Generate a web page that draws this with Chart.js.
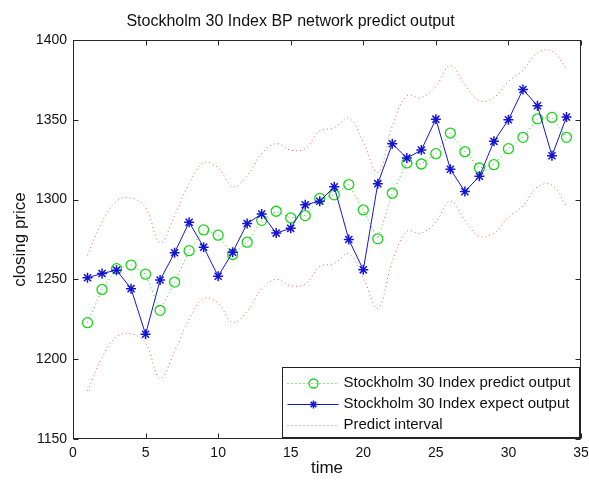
<!DOCTYPE html>
<html>
<head>
<meta charset="utf-8">
<script src="https://cdn.jsdelivr.net/npm/chart.js@4.4.1/dist/chart.umd.min.js"></script>
<style>
  html, body { margin: 0; padding: 0; background: #fff; }
  #wrap { width: 589px; height: 481px; }
</style>
</head>
<body>
<div id="wrap"><canvas id="c" width="589" height="481"></canvas></div>
<script>
// Trading days 1..34
const timeSteps = [1, 2, 3, 4, 5, 6, 7, 8, 9, 10, 11, 12, 13, 14, 15, 16, 17,
                   18, 19, 20, 21, 22, 23, 24, 25, 26, 27, 28, 29, 30, 31, 32, 33, 34];

// BP network output for the Stockholm 30 index
const predictOutput = [1222.9, 1243.7, 1256.7, 1259.0, 1253.3, 1230.6, 1248.3, 1268.0, 1281.0, 1277.7,
                       1265.6, 1273.3, 1287.0, 1292.7, 1288.5, 1290.0, 1300.8, 1303.0, 1309.4, 1293.5,
                       1275.4, 1304.0, 1323.0, 1322.3, 1328.8, 1341.7, 1330.0, 1319.8, 1321.9, 1331.9,
                       1339.0, 1350.6, 1351.5, 1339.0];

// Actual closing prices
const expectOutput = [1251.0, 1253.7, 1255.8, 1244.2, 1215.6, 1249.6, 1266.7, 1285.8, 1270.2, 1252.0,
                      1267.0, 1285.0, 1291.0, 1279.0, 1282.0, 1296.7, 1299.0, 1308.0, 1275.0, 1256.0,
                      1310.0, 1335.0, 1326.0, 1331.0, 1350.4, 1319.0, 1305.0, 1314.6, 1336.5, 1350.0,
                      1369.0, 1358.8, 1327.5, 1351.7];

// Prediction interval bounds
const intervalUpper = [1265, 1286, 1299, 1301, 1295, 1273, 1290, 1310, 1323, 1320,
                       1308, 1315, 1329, 1335, 1331, 1332, 1343, 1345, 1351, 1336,
                       1317, 1346, 1365, 1364, 1371, 1384, 1372, 1362, 1364, 1374,
                       1381, 1392, 1393, 1382];
const intervalLower = [1180, 1201, 1214, 1216, 1210, 1188, 1205, 1225, 1238, 1235,
                       1223, 1230, 1244, 1250, 1246, 1247, 1258, 1260, 1266, 1251,
                       1232, 1261, 1280, 1279, 1286, 1299, 1287, 1277, 1279, 1289,
                       1296, 1308, 1309, 1296];

const seriesNames = ['Stockholm 30 Index predict output',
                     'Stockholm 30 Index expect output',
                     'Predict interval'];

const FONT = '"Liberation Sans", Arial, Helvetica, sans-serif';
const TEXT = '#111';
const GREEN = '#19d319';
const BLUE = '#1414d2';
const RED = 'rgba(225,30,30,0.7)';

const pts = vals => vals.map((v, i) => ({ x: timeSteps[i], y: v }));

function drawMarker(ctx, style, cx, cy, r, color) {
  ctx.save();
  ctx.strokeStyle = color;
  ctx.setLineDash([]);
  if (style === 'circle') {
    ctx.lineWidth = 1.3;
    ctx.beginPath();
    ctx.arc(cx, cy, r, 0, Math.PI * 2);
    ctx.stroke();
  } else if (style === 'star') {
    ctx.lineWidth = 1.5;
    ctx.beginPath();
    const d = r * Math.SQRT1_2;
    ctx.moveTo(cx - r, cy); ctx.lineTo(cx + r, cy);
    ctx.moveTo(cx, cy - r); ctx.lineTo(cx, cy + r);
    ctx.moveTo(cx - d, cy - d); ctx.lineTo(cx + d, cy + d);
    ctx.moveTo(cx - d, cy + d); ctx.lineTo(cx + d, cy - d);
    ctx.stroke();
  }
  ctx.restore();
}

// Axes box with inward tick marks, plus the legend box in the lower right corner
const boxAndLegend = {
  id: 'boxAndLegend',
  afterDatasetsDraw(chart) {
    const { ctx, chartArea: a, scales: { x, y } } = chart;
    ctx.save();
    ctx.strokeStyle = '#262626';
    ctx.lineWidth = 1;
    ctx.setLineDash([]);
    const L = Math.round(a.left) + 0.5, R = Math.round(a.right) - 0.5;
    const T = Math.round(a.top) + 0.5, B = Math.round(a.bottom) - 0.5;
    ctx.strokeRect(L, T, R - L, B - T);
    const tl = 5;
    ctx.beginPath();
    x.ticks.forEach(t => {
      const px = Math.round(x.getPixelForValue(t.value)) + 0.5;
      ctx.moveTo(px, B); ctx.lineTo(px, B - tl);
      ctx.moveTo(px, T); ctx.lineTo(px, T + tl);
    });
    y.ticks.forEach(t => {
      const py = Math.round(y.getPixelForValue(t.value)) + 0.5;
      ctx.moveTo(L, py); ctx.lineTo(L + tl, py);
      ctx.moveTo(R, py); ctx.lineTo(R - tl, py);
    });
    ctx.stroke();

    // legend
    const lw = 297, lh = 70;
    const lx = Math.round(a.right) - 2 - lw + 0.5;
    const ly = Math.round(a.bottom) - 2 - lh + 0.5;
    ctx.fillStyle = '#fff';
    ctx.fillRect(lx, ly, lw, lh);
    ctx.strokeStyle = '#222';
    ctx.strokeRect(lx, ly, lw, lh);
    ctx.font = '15px ' + FONT;
    ctx.fillStyle = TEXT;
    ctx.textBaseline = 'middle';
    ctx.textAlign = 'left';
    const rows = [15, 36.5, 57.5];
    chart.data.datasets.slice(0, 3).forEach((ds, i) => {
      const ry = ly + rows[i];
      ctx.save();
      ctx.strokeStyle = ds.borderColor;
      ctx.lineWidth = ds.borderWidth;
      ctx.setLineDash(ds.borderDash || []);
      ctx.beginPath();
      ctx.moveTo(lx + 5, Math.round(ry) + 0.5);
      ctx.lineTo(lx + 56, Math.round(ry) + 0.5);
      ctx.stroke();
      ctx.restore();
      if (ds.legendMarker) drawMarker(ctx, ds.legendMarker, lx + 31, Math.round(ry) + 0.5, ds.legendMarker === 'circle' ? 4.5 : 4, ds.pointBorderColor);
      ctx.fillText(seriesNames[i], lx + 61, ry);
    });
    ctx.restore();
  }
};

new Chart(document.getElementById('c'), {
  type: 'line',
  data: {
    datasets: [
      {
        label: seriesNames[0],
        data: pts(predictOutput),
        borderColor: GREEN,
        borderWidth: 1,
        borderDash: [1, 3],
        pointStyle: 'circle',
        pointRadius: 5,
        pointBorderWidth: 1.3,
        pointBorderColor: GREEN,
        pointBackgroundColor: 'rgba(0,0,0,0)',
        legendMarker: 'circle',
        tension: 0,
        order: 1
      },
      {
        label: seriesNames[1],
        data: pts(expectOutput),
        borderColor: BLUE,
        borderWidth: 1,
        pointStyle: 'star',
        pointRadius: 5,
        pointBorderWidth: 1.5,
        pointBorderColor: BLUE,
        pointBackgroundColor: BLUE,
        legendMarker: 'star',
        tension: 0,
        order: 0
      },
      {
        label: seriesNames[2],
        data: pts(intervalUpper),
        borderColor: RED,
        borderWidth: 1,
        borderDash: [1, 3],
        pointRadius: 0,
        tension: 0.4,
        order: 2
      },
      {
        label: seriesNames[2] + ' (lower)',
        data: pts(intervalLower),
        borderColor: RED,
        borderWidth: 1,
        borderDash: [1, 3],
        pointRadius: 0,
        tension: 0.4,
        order: 2
      }
    ]
  },
  options: {
    responsive: false,
    animation: false,
    devicePixelRatio: 1,
    layout: { padding: { top: 0, right: 8, left: 0, bottom: 0 } },
    plugins: {
      legend: { display: false },
      tooltip: { enabled: false },
      title: {
        display: true,
        text: 'Stockholm 30 Index BP network predict output',
        color: TEXT,
        font: { family: FONT, size: 16, weight: 'normal', lineHeight: 1.2 },
        padding: { top: 12, bottom: 8.8 }
      }
    },
    scales: {
      x: {
        type: 'linear',
        min: 0, max: 35,
        afterFit: s => { s.height = 42; s.paddingLeft = 0; s.paddingRight = 0; },
        grid: { display: false, drawTicks: false },
        border: { display: false },
        ticks: { stepSize: 5, padding: 6, color: TEXT, font: { family: FONT, size: 14 }, maxRotation: 0,
                 callback: v => String(v) },
        title: { display: true, text: 'time', color: TEXT, font: { family: FONT, size: 17 }, padding: { top: 0, bottom: 2 } }
      },
      y: {
        type: 'linear',
        min: 1150, max: 1400,
        afterFit: s => { s.width = 73; s.paddingTop = 0; s.paddingBottom = 0; },
        grid: { display: false, drawTicks: false },
        border: { display: false },
        ticks: { stepSize: 50, padding: 6, color: TEXT, font: { family: FONT, size: 14 },
                 callback: v => String(v) },
        title: { display: true, text: 'closing price', color: TEXT, font: { family: FONT, size: 17 }, padding: { top: 10, bottom: 0 } }
      }
    }
  },
  plugins: [boxAndLegend]
});
</script>
</body>
</html>
